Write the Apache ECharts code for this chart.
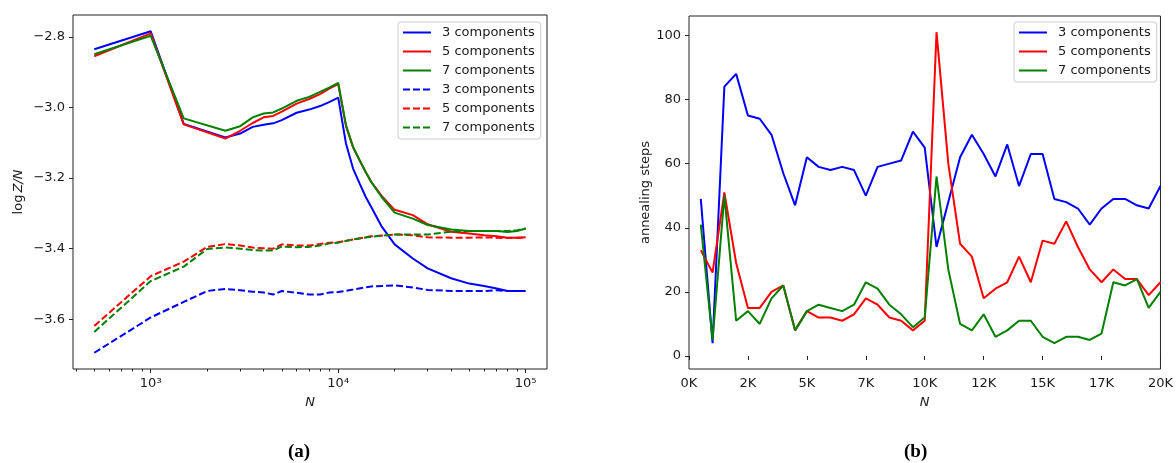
<!DOCTYPE html>
<html>
<head>
<meta charset="utf-8">
<script src="https://cdn.jsdelivr.net/npm/echarts@6/dist/echarts.min.js"></script>
<style>
html, body { margin: 0; padding: 0; background: #fff; }
#main { width: 1176px; height: 463px; }
</style>
</head>
<body>
<div id="main"></div>
<script>
// (a) log Z / N against N, log x axis
var nSolid = [500, 1000, 1500, 2500, 3000, 3500, 4000, 4500, 5000, 6000, 7000, 8000, 9000, 10000,
    11000, 12000, 13000, 14000, 15000, 17000, 20000, 25000, 30000, 40000, 50000, 60000, 70000, 80000, 90000, 100000];
var solid3 = [-2.835, -2.784, -3.047, -3.085, -3.074, -3.055, -3.049, -3.045, -3.036, -3.015, -3.006, -2.996, -2.984, -2.972,
    -3.102, -3.173, -3.215, -3.253, -3.282, -3.336, -3.388, -3.428, -3.456, -3.484, -3.499, -3.506, -3.513, -3.520, -3.520, -3.520];
var solid5 = [-2.855, -2.790, -3.048, -3.088, -3.066, -3.044, -3.028, -3.024, -3.012, -2.989, -2.976, -2.962, -2.946, -2.934,
    -3.052, -3.113, -3.150, -3.183, -3.211, -3.250, -3.290, -3.305, -3.331, -3.352, -3.357, -3.362, -3.365, -3.369, -3.369, -3.368];
var solid7 = [-2.849, -2.797, -3.031, -3.066, -3.053, -3.028, -3.017, -3.014, -3.003, -2.981, -2.970, -2.956, -2.943, -2.930,
    -3.050, -3.112, -3.149, -3.182, -3.211, -3.253, -3.298, -3.315, -3.333, -3.346, -3.350, -3.350, -3.350, -3.353, -3.350, -3.343];

var nDashed = [500, 1000, 1500, 2000, 2500, 3000, 3500, 4000, 4500, 5000, 6000, 7000, 8000, 9000, 10000,
    12000, 15000, 20000, 25000, 30000, 40000, 50000, 60000, 70000, 80000, 90000, 100000];
var dashed3 = [-3.695, -3.595, -3.551, -3.520, -3.514, -3.518, -3.522, -3.524, -3.530, -3.520, -3.525, -3.530, -3.530, -3.524, -3.523,
    -3.516, -3.507, -3.504, -3.510, -3.517, -3.520, -3.520, -3.520, -3.518, -3.520, -3.520, -3.520];
var dashed5 = [-3.619, -3.478, -3.437, -3.395, -3.387, -3.391, -3.397, -3.399, -3.400, -3.388, -3.391, -3.391, -3.387, -3.383, -3.382,
    -3.374, -3.365, -3.360, -3.362, -3.368, -3.369, -3.369, -3.368, -3.369, -3.370, -3.369, -3.369];
var dashed7 = [-3.636, -3.492, -3.451, -3.401, -3.397, -3.400, -3.404, -3.405, -3.405, -3.394, -3.396, -3.395, -3.391, -3.385, -3.383,
    -3.374, -3.366, -3.360, -3.360, -3.360, -3.352, -3.350, -3.350, -3.350, -3.350, -3.348, -3.343];

var logMajor = [1000, 10000, 100000];
var logMinor = [400, 500, 600, 700, 800, 900, 2000, 3000, 4000, 5000, 6000, 7000, 8000, 9000,
    20000, 30000, 40000, 50000, 60000, 70000, 80000, 90000];
var leftYTicks = [-3.6, -3.4, -3.2, -3.0, -2.8];

// (b) annealing steps against N
var nSteps = [500, 1000, 1500, 2000, 2500, 3000, 3500, 4000, 4500, 5000,
    5500, 6000, 6500, 7000, 7500, 8000, 8500, 9000, 9500, 10000,
    10500, 11000, 11500, 12000, 12500, 13000, 13500, 14000, 14500, 15000,
    15500, 16000, 16500, 17000, 17500, 18000, 18500, 19000, 19500, 20000];
var steps3 = [49, 4, 84, 88, 75, 74, 69, 57, 47, 62,
    59, 58, 59, 58, 50, 59, 60, 61, 70, 65,
    34, 48, 62, 69, 63, 56, 66, 53, 63, 63,
    49, 48, 46, 41, 46, 49, 49, 47, 46, 53];
var steps5 = [33, 26, 51, 29, 15, 15, 20, 22, 8, 14,
    12, 12, 11, 13, 18, 16, 12, 11, 8, 11,
    101, 60, 35, 31, 18, 21, 23, 31, 23, 36,
    35, 42, 34, 27, 23, 27, 24, 24, 19, 23];
var steps7 = [41, 5, 50, 11, 14, 10, 18, 22, 8, 14,
    16, 15, 14, 16, 23, 21, 16, 13, 9, 12,
    56, 27, 10, 8, 13, 6, 8, 11, 11, 6,
    4, 6, 6, 5, 7, 23, 22, 24, 15, 20];
var rightYTicks = [0, 20, 40, 60, 80, 100];

var names = {s3: '3 components', s5: '5 components', s7: '7 components',
    d3: '3 components', d5: '5 components', d7: '7 components',
    b3: '3 components', b5: '5 components', b7: '7 components'};

function zip(xs, ys) {
    return xs.map(function (x, i) { return [x, ys[i]]; });
}

var FONT = 'DejaVu Sans';
var TXT = '#1a1a1a';
var BLUE = '#0000ff', RED = '#ff0000', GREEN = '#008000';

function line(name, xs, ys, color, dashed, axis) {
    return {
        name: name,
        type: 'line',
        xAxisIndex: axis === 1 ? 2 : 0,
        yAxisIndex: axis,
        data: zip(xs, ys),
        symbol: 'none',
        color: color,
        itemStyle: {opacity: 0},
        lineStyle: {color: color, width: 2, type: dashed ? [7, 3] : 'solid'},
        animation: false
    };
}

function minus(v, digits) {
    var s = Math.abs(v).toFixed(digits);
    return v < 0 ? '\u2212' + s : s;
}

var sup = {3: '\u00b3', 4: '\u2074', 5: '\u2075'};

var legendBase = {
    orient: 'vertical',
    itemWidth: 28,
    itemHeight: 14,
    itemGap: 6,
    padding: [4, 6, 5, 4],
    itemStyle: {opacity: 0},
    backgroundColor: 'rgba(255,255,255,0.8)',
    borderColor: '#cccccc',
    borderWidth: 1,
    borderRadius: 3,
    textStyle: {fontFamily: FONT, fontSize: 13, color: TXT, padding: [0, 0, 0, 6]},
    formatter: function (n) { return names[n]; }
};

var chart = echarts.init(document.getElementById('main'));
chart.setOption({
    backgroundColor: '#fff',
    grid: [
        {left: 73, top: 15, width: 474, height: 354, show: true, borderColor: '#222', borderWidth: 1, backgroundColor: 'transparent'},
        {left: 689, top: 16, width: 475, height: 353, show: true, borderColor: '#222', borderWidth: 1, backgroundColor: 'transparent'}
    ],
    legend: [
        echarts.util.extend({left: 398, top: 22, data: ['s3', 's5', 's7', 'd3', 'd5', 'd7']}, legendBase),
        echarts.util.extend({left: 1014, top: 22, data: ['b3', 'b5', 'b7']}, legendBase)
    ],
    xAxis: [
        {
            type: 'log', logBase: 10, gridIndex: 0, position: 'bottom',
            min: 385, max: 129900,
            name: 'N', nameLocation: 'middle', nameGap: 27,
            nameTextStyle: {fontFamily: FONT, fontSize: 13, fontStyle: 'italic', color: TXT},
            axisLine: {show: false},
            axisTick: {length: 4, lineStyle: {color: '#222'}, customValues: logMajor},
            axisLabel: {fontFamily: FONT, fontSize: 13, color: TXT, margin: 8, customValues: logMajor,
                formatter: function (v) { return '10' + sup[Math.round(Math.log10(v))]; }},
            splitLine: {show: false}
        },
        {
            type: 'log', logBase: 10, gridIndex: 0, position: 'bottom', offset: 0,
            min: 385, max: 129900,
            axisLine: {show: false},
            axisTick: {length: 2.5, lineStyle: {color: '#222'}, customValues: logMinor},
            axisLabel: {show: false},
            splitLine: {show: false}
        },
        {
            type: 'value', gridIndex: 1,
            min: 0, max: 20000, interval: 2500,
            name: 'N', nameLocation: 'middle', nameGap: 27,
            nameTextStyle: {fontFamily: FONT, fontSize: 13, fontStyle: 'italic', color: TXT},
            axisLine: {show: false},
            axisTick: {length: 4, lineStyle: {color: '#222'}},
            axisLabel: {fontFamily: FONT, fontSize: 13, color: TXT, margin: 8,
                showMinLabel: true, showMaxLabel: true,
                formatter: function (v) { return Math.floor(v / 1000) + 'K'; }},
            splitLine: {show: false}
        }
    ],
    yAxis: [
        {
            type: 'value', gridIndex: 0,
            min: -3.741, max: -2.738,
            name: '{r|log}{i|Z/N}', nameLocation: 'middle', nameGap: 48,
            nameTextStyle: {fontFamily: FONT, fontSize: 13, color: TXT,
                rich: {r: {fontFamily: FONT, fontSize: 13, color: TXT, padding: [0, 2, 0, 0]},
                       i: {fontFamily: FONT, fontSize: 13, color: TXT, fontStyle: 'italic'}}},
            axisLine: {show: false},
            axisTick: {length: 4, lineStyle: {color: '#222'}, customValues: leftYTicks},
            axisLabel: {fontFamily: FONT, fontSize: 13, color: TXT, margin: 8, customValues: leftYTicks,
                formatter: function (v) { return minus(v, 1); }},
            splitLine: {show: false}
        },
        {
            type: 'value', gridIndex: 1,
            min: -4.05, max: 106.05,
            name: 'annealing steps', nameLocation: 'middle', nameGap: 34,
            nameTextStyle: {fontFamily: FONT, fontSize: 13, color: TXT},
            axisLine: {show: false},
            axisTick: {length: 4, lineStyle: {color: '#222'}, customValues: rightYTicks},
            axisLabel: {fontFamily: FONT, fontSize: 13, color: TXT, margin: 8, customValues: rightYTicks},
            splitLine: {show: false}
        }
    ],
    graphic: [
        {type: 'text', left: 288, top: 443, style: {text: '(a)', font: 'bold 19px "Liberation Serif"', fill: '#000'}},
        {type: 'text', left: 904, top: 443, style: {text: '(b)', font: 'bold 19px "Liberation Serif"', fill: '#000'}}
    ],
    series: [
        line('s3', nSolid, solid3, BLUE, false, 0),
        line('s5', nSolid, solid5, RED, false, 0),
        line('s7', nSolid, solid7, GREEN, false, 0),
        line('d3', nDashed, dashed3, BLUE, true, 0),
        line('d5', nDashed, dashed5, RED, true, 0),
        line('d7', nDashed, dashed7, GREEN, true, 0),
        line('b3', nSteps, steps3, BLUE, false, 1),
        line('b5', nSteps, steps5, RED, false, 1),
        line('b7', nSteps, steps7, GREEN, false, 1)
    ]
});
</script>
</body>
</html>
